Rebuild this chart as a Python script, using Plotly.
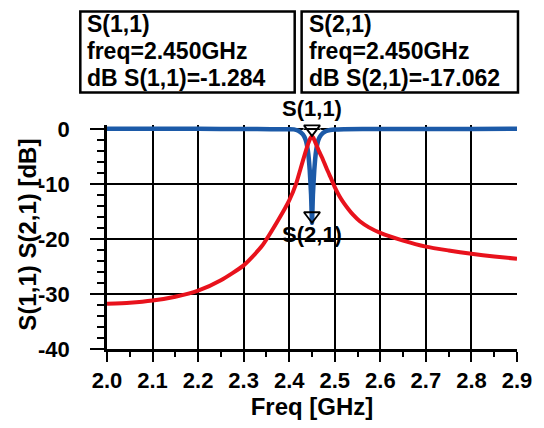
import plotly.graph_objects as go

# S-parameter sweep, frequency in GHz, magnitude in dB
freq_s11 = [2.00, 2.05, 2.10, 2.15, 2.20, 2.25, 2.30, 2.34, 2.375, 2.40, 2.415,
            2.425, 2.435, 2.442, 2.447, 2.45, 2.453, 2.458, 2.465, 2.472, 2.483,
            2.494, 2.50, 2.51, 2.52, 2.53, 2.54, 2.555, 2.575, 2.60, 2.65, 2.70,
            2.75, 2.80, 2.85, 2.90]
db_s11 = [-31.8, -31.6, -31.2, -30.5, -29.4, -27.5, -24.8, -21.3, -16.7, -13.0, -10.0,
          -7.2, -4.4, -2.6, -1.6, -1.284, -1.6, -2.6, -4.0, -5.2, -7.4,
          -9.4, -10.6, -12.2, -13.5, -14.6, -15.6, -16.8, -17.9, -18.9, -20.3, -21.4,
          -22.1, -22.7, -23.2, -23.6]

freq_s21 = [2.00, 2.10, 2.20, 2.30, 2.36, 2.40, 2.41, 2.42, 2.43, 2.436, 2.441,
            2.445, 2.448, 2.45, 2.452, 2.455, 2.459, 2.464, 2.47, 2.48, 2.49,
            2.50, 2.52, 2.60, 2.70, 2.80, 2.90]
db_s21 = [0.0, 0.0, 0.0, -0.03, -0.05, -0.07, -0.1, -0.35, -1.0, -2.0, -4.0,
          -7.5, -12.0, -17.062, -12.0, -7.5, -4.0, -2.0, -1.1, -0.45, -0.2,
          -0.1, -0.05, -0.03, -0.02, -0.01, 0.0]

# Marker readouts at 2.450 GHz
marker_freq = [2.45, 2.45]
marker_db = [-1.284, -17.062]
marker_names = ["S(1,1)", "S(2,1)"]
readout_lines = [
    ["S(1,1)", "freq=2.450GHz", "dB S(1,1)=-1.284"],
    ["S(2,1)", "freq=2.450GHz", "dB S(2,1)=-17.062"],
]

x_ticks = [2.0, 2.1, 2.2, 2.3, 2.4, 2.5, 2.6, 2.7, 2.8, 2.9]
y_ticks = [0, -10, -20, -30, -40]

FONT = "Liberation Sans, Arial, sans-serif"
BLUE = "#1c5aa8"
RED = "#e8121c"

fig = go.Figure()

# marker names sit underneath the curves
fig.add_trace(go.Scatter(
    x=marker_freq, y=marker_db, mode="markers+text",
    text=marker_names, textposition=["top center", "bottom center"],
    marker=dict(size=[22, 2], color="rgba(0,0,0,0)"),
    textfont=dict(family=FONT, size=22, color="black", weight="bold"),
    cliponaxis=False, hoverinfo="skip", showlegend=False,
))
fig.add_trace(go.Scatter(
    x=freq_s21, y=db_s21, mode="lines", name="S(2,1)",
    line=dict(color=BLUE, width=4.5, shape="spline", smoothing=0.4),
    showlegend=False,
))
fig.add_trace(go.Scatter(
    x=freq_s11, y=db_s11, mode="lines", name="S(1,1)",
    line=dict(color=RED, width=4, shape="spline", smoothing=0.6),
    showlegend=False,
))
# downward-pointing marker triangles with their tips on the readout points
fig.add_trace(go.Scatter(
    x=marker_freq, y=marker_db, mode="markers",
    marker=dict(symbol="triangle-up-open", angle=180, standoff=7, size=14,
                color="black", line=dict(width=1.8, color="black")),
    cliponaxis=False, hoverinfo="skip", showlegend=False,
))

# readout boxes above the plot
box_x = [(-0.0651, 0.4578), (0.4747, 1.0024)]
text_x = [-0.053, 0.4867]
line_y = [1.452, 1.329, 1.210]
shapes = []
annotations = []
for (x0, x1), tx, lines in zip(box_x, text_x, readout_lines):
    shapes.append(dict(type="rect", xref="paper", yref="paper",
                       x0=x0, x1=x1, y0=1.1454, y1=1.5066,
                       line=dict(color="black", width=2.5), fillcolor="white"))
    for ly, txt in zip(line_y, lines):
        annotations.append(dict(xref="paper", yref="paper", x=tx, y=ly,
                                xanchor="left", yanchor="middle", showarrow=False,
                                text=txt,
                                font=dict(family=FONT, size=23, color="black",
                                          weight="bold")))

# vertical axis title
annotations.append(dict(xref="paper", yref="paper", x=-0.193, y=0.51,
                        xanchor="center", yanchor="middle", showarrow=False,
                        textangle=-90, text="S(1,1) S(2,1) [dB]",
                        font=dict(family=FONT, size=24, color="black", weight="bold")))

fig.update_layout(
    width=544, height=428,
    margin=dict(l=107, r=22, t=125, b=76),
    paper_bgcolor="white", plot_bgcolor="white",
    shapes=shapes, annotations=annotations,
    xaxis=dict(
        range=[2.0, 2.9], tickvals=x_ticks, ticktext=[f"{v:.1f}" for v in x_ticks],
        showgrid=True, gridcolor="black", gridwidth=2, zeroline=False,
        showline=True, linecolor="black", linewidth=2.5,
        ticks="outside", ticklen=10, tickwidth=2, tickcolor="black",
        minor=dict(dtick=0.05, ticks="outside", ticklen=5, tickwidth=2,
                   tickcolor="black", showgrid=False),
        tickfont=dict(family=FONT, size=22, color="black", weight="bold"),
        title=dict(text="Freq [GHz]", standoff=6,
                   font=dict(family=FONT, size=24, color="black", weight="bold")),
    ),
    yaxis=dict(
        range=[-40, 0.7], tickvals=y_ticks, ticktext=[str(v) for v in y_ticks],
        showgrid=True, gridcolor="black", gridwidth=2, zeroline=False,
        showline=True, linecolor="black", linewidth=2.5,
        ticks="outside", ticklen=14, tickwidth=2, tickcolor="black",
        ticklabelstandoff=16,
        minor=dict(dtick=2, ticks="outside", ticklen=7, tickwidth=2,
                   tickcolor="black", showgrid=False),
        tickfont=dict(family=FONT, size=22, color="black", weight="bold"),
    ),
)

fig.write_html("out.html")
